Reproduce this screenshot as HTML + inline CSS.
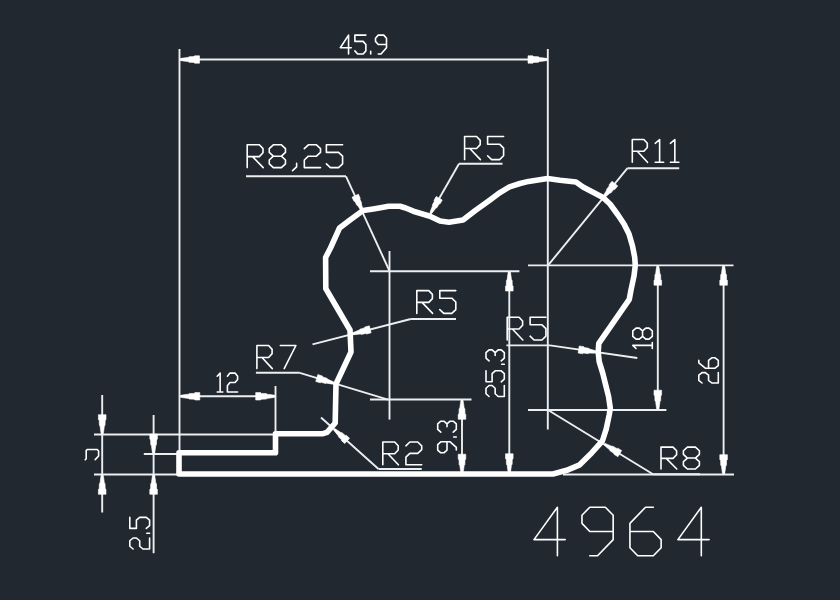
<!DOCTYPE html>
<html><head><meta charset="utf-8"><title>4964</title>
<style>html,body{margin:0;padding:0;background:#212830;width:840px;height:600px;overflow:hidden;font-family:"Liberation Sans",sans-serif;}svg{display:block}</style>
</head><body>
<svg width="840" height="600" viewBox="0 0 840 600"><rect width="840" height="600" fill="#212830"/><g stroke="#eceef0" stroke-width="1.9" fill="none" stroke-linecap="butt"><line x1="179.5" y1="49" x2="179.5" y2="452"/><line x1="547.8" y1="49" x2="547.8" y2="429.5"/><line x1="179.5" y1="59.5" x2="547.8" y2="59.5"/><line x1="246" y1="176.3" x2="346" y2="176.3"/><line x1="346" y1="176.3" x2="389.5" y2="271"/><line x1="389.5" y1="251" x2="389.5" y2="419.6"/><line x1="370" y1="271.2" x2="519.4" y2="271.2"/><line x1="370" y1="399.5" x2="471.5" y2="399.5"/><line x1="459" y1="163.8" x2="502.5" y2="163.8"/><line x1="459" y1="163.8" x2="430.3" y2="214"/><line x1="627.5" y1="168.2" x2="679.2" y2="168.2"/><line x1="627.5" y1="168.2" x2="548" y2="265.4"/><line x1="528" y1="265.4" x2="733.5" y2="265.4"/><line x1="528" y1="410" x2="666.4" y2="410"/><line x1="563" y1="474.5" x2="734" y2="474.5"/><line x1="657.8" y1="265.4" x2="657.8" y2="410"/><line x1="723.6" y1="265.4" x2="723.6" y2="474.5"/><line x1="509.3" y1="271.2" x2="509.3" y2="473.6"/><line x1="462" y1="399.5" x2="462" y2="474"/><line x1="410.8" y1="319.0" x2="456" y2="319.0"/><line x1="410.8" y1="319.0" x2="312.5" y2="344.3"/><line x1="506.4" y1="345.4" x2="550" y2="345.4"/><line x1="550" y1="345.4" x2="637.3" y2="358"/><line x1="255.9" y1="372.8" x2="299.8" y2="372.8"/><line x1="299.8" y1="372.8" x2="388" y2="399.6"/><line x1="321" y1="417.5" x2="378.5" y2="469.0"/><line x1="378.5" y1="469.0" x2="421.7" y2="469.0"/><line x1="548" y1="410" x2="653.1" y2="474.3"/><line x1="653.1" y1="474.3" x2="700" y2="474.3"/><line x1="180" y1="396.3" x2="275.5" y2="396.3"/><line x1="275.5" y1="386" x2="275.5" y2="434"/><line x1="94" y1="434.5" x2="276" y2="434.5"/><line x1="94" y1="474.5" x2="179" y2="474.5"/><line x1="102.2" y1="395" x2="102.2" y2="512.5"/><line x1="143.8" y1="454" x2="179" y2="454"/><line x1="153.6" y1="415" x2="153.6" y2="553.2"/></g><g fill="#ffffff" stroke="#ffffff" stroke-width="0.6" stroke-linejoin="miter"><polygon points="180.50,60.50 183.35,61.00 188.10,61.60 189.05,62.30 193.80,62.40 194.56,63.20 199.50,63.20 199.50,55.80 194.56,55.80 193.80,56.60 189.05,56.70 188.10,57.40 183.35,58.00 180.50,58.50"/><polygon points="547.00,58.50 544.15,58.00 539.40,57.40 538.45,56.70 533.70,56.60 532.94,55.80 528.00,55.80 528.00,63.20 532.94,63.20 533.70,62.40 538.45,62.30 539.40,61.60 544.15,61.00 547.00,60.50"/><polygon points="363.36,210.59 362.69,208.09 361.38,204.00 361.61,202.95 359.87,199.07 360.26,198.13 358.37,194.14 352.03,197.15 353.93,201.14 354.91,201.43 356.82,205.23 357.78,205.71 360.12,209.31 361.64,211.41"/><polygon points="431.62,213.47 433.30,211.49 435.91,208.09 436.91,207.68 439.10,204.04 440.10,203.83 442.29,199.99 436.21,196.51 434.01,200.34 434.33,201.31 432.30,205.04 432.46,206.11 430.84,210.08 429.98,212.53"/><polygon points="604.27,198.13 606.37,196.36 609.69,193.26 610.80,193.01 613.73,189.59 614.80,189.54 617.77,185.92 612.04,181.23 609.08,184.85 609.24,185.91 606.47,189.46 606.44,190.60 604.05,194.46 602.73,196.87"/><polygon points="656.77,266.20 656.26,269.05 655.64,273.80 654.93,274.75 654.82,279.50 654.00,280.26 654.00,285.20 661.60,285.20 661.60,280.26 660.78,279.50 660.67,274.75 659.96,273.80 659.34,269.05 658.83,266.20"/><polygon points="658.83,409.20 659.34,406.35 659.96,401.60 660.67,400.65 660.78,395.90 661.60,395.14 661.60,390.20 654.00,390.20 654.00,395.14 654.82,395.90 654.93,400.65 655.64,401.60 656.26,406.35 656.77,409.20"/><polygon points="722.57,266.20 722.06,269.05 721.44,273.80 720.73,274.75 720.62,279.50 719.80,280.26 719.80,285.20 727.40,285.20 727.40,280.26 726.58,279.50 726.47,274.75 725.76,273.80 725.14,269.05 724.63,266.20"/><polygon points="724.63,473.70 725.14,470.85 725.76,466.10 726.47,465.15 726.58,460.40 727.40,459.64 727.40,454.70 719.80,454.70 719.80,459.64 720.62,460.40 720.73,465.15 721.44,466.10 722.06,470.85 722.57,473.70"/><polygon points="508.27,272.00 507.76,274.85 507.14,279.60 506.43,280.55 506.32,285.30 505.50,286.06 505.50,291.00 513.10,291.00 513.10,286.06 512.28,285.30 512.17,280.55 511.46,279.60 510.84,274.85 510.33,272.00"/><polygon points="510.33,472.80 510.84,469.95 511.46,465.20 512.17,464.25 512.28,459.50 513.10,458.74 513.10,453.80 505.50,453.80 505.50,458.74 506.32,459.50 506.43,464.25 507.14,465.20 507.76,469.95 508.27,472.80"/><polygon points="460.97,400.30 460.46,403.15 459.84,407.90 459.13,408.85 459.02,413.60 458.20,414.36 458.20,419.30 465.80,419.30 465.80,414.36 464.98,413.60 464.87,408.85 464.16,407.90 463.54,403.15 463.03,400.30"/><polygon points="463.03,473.20 463.54,470.35 464.16,465.60 464.87,464.65 464.98,459.90 465.80,459.14 465.80,454.20 458.20,454.20 458.20,459.14 459.02,459.90 459.13,464.65 459.84,465.60 460.46,470.35 460.97,473.20"/><polygon points="353.04,334.74 355.78,334.55 360.28,334.00 361.32,334.44 365.71,333.42 366.60,334.00 371.13,332.84 369.35,325.86 364.82,327.02 364.31,327.95 359.97,329.16 359.27,330.04 355.06,331.72 352.56,332.86"/><polygon points="596.64,351.14 594.04,350.27 589.67,349.05 588.87,348.25 584.43,347.51 583.83,346.63 579.20,345.97 578.17,353.10 582.80,353.77 583.63,353.10 588.09,353.64 589.08,353.10 593.62,353.16 596.36,353.06"/><polygon points="334.29,382.37 331.85,381.11 327.72,379.23 327.06,378.32 322.78,376.90 322.32,375.95 317.85,374.57 315.74,381.46 320.21,382.83 321.13,382.30 325.46,383.53 326.52,383.14 330.99,383.90 333.71,384.23"/><polygon points="333.85,430.33 335.43,432.39 338.21,435.66 338.39,436.73 341.49,439.64 341.48,440.67 344.77,443.61 349.58,438.24 346.28,435.30 345.25,435.42 342.02,432.67 340.93,432.61 337.37,430.21 335.15,428.87"/><polygon points="603.99,445.03 606.03,446.86 609.54,449.73 609.95,450.78 613.73,453.23 613.93,454.28 617.91,456.74 621.70,450.61 617.72,448.15 616.70,448.43 612.82,446.15 611.70,446.25 607.56,444.38 605.01,443.37"/><polygon points="180.80,397.30 183.65,397.80 188.40,398.40 189.35,399.10 194.10,399.20 194.86,400.00 199.80,400.00 199.80,392.60 194.86,392.60 194.10,393.40 189.35,393.50 188.40,394.20 183.65,394.80 180.80,395.30"/><polygon points="274.70,395.30 271.85,394.80 267.10,394.20 266.15,393.50 261.40,393.40 260.64,392.60 255.70,392.60 255.70,400.00 260.64,400.00 261.40,399.20 266.15,399.10 267.10,398.40 271.85,397.80 274.70,397.30"/><polygon points="103.23,433.70 103.74,430.85 104.36,426.10 105.07,425.15 105.18,420.40 106.00,419.64 106.00,414.70 98.40,414.70 98.40,419.64 99.22,420.40 99.33,425.15 100.04,426.10 100.66,430.85 101.17,433.70"/><polygon points="101.17,475.30 100.66,478.15 100.04,482.90 99.33,483.85 99.22,488.60 98.40,489.36 98.40,494.30 106.00,494.30 106.00,489.36 105.18,488.60 105.07,483.85 104.36,482.90 103.74,478.15 103.23,475.30"/><polygon points="154.63,453.20 155.14,450.35 155.76,445.60 156.47,444.65 156.58,439.90 157.40,439.14 157.40,434.20 149.80,434.20 149.80,439.14 150.62,439.90 150.73,444.65 151.44,445.60 152.06,450.35 152.57,453.20"/><polygon points="152.57,475.30 152.06,478.15 151.44,482.90 150.73,483.85 150.62,488.60 149.80,489.36 149.80,494.30 157.40,494.30 157.40,489.36 156.58,488.60 156.47,483.85 155.76,482.90 155.14,478.15 154.63,475.30"/></g><g stroke="#ffffff" stroke-width="1.6" fill="none" stroke-linecap="round" stroke-linejoin="round"><path d="M348.55,54.00 L348.55,35.10 L340.30,47.70 L351.30,47.70 M365.88,35.10 L354.88,35.10 L354.88,41.40 L363.12,41.40 L365.88,44.55 L365.88,50.85 L363.12,54.00 L357.62,54.00 L354.88,50.85 M370.69,54.00 L370.69,51.32 M378.25,54.00 L381.00,54.00 L386.50,47.70 L386.50,38.25 L383.75,35.10 L378.25,35.10 L375.50,38.25 L375.50,41.40 L378.25,44.55 L386.50,44.55"/><path d="M247.20,167.60 L247.20,144.80 L259.35,144.80 L263.00,148.60 L263.00,152.78 L259.35,156.58 L247.20,156.58 M252.46,156.58 L263.20,167.60 M273.32,156.20 L269.27,152.40 L269.27,148.60 L273.32,144.80 L281.42,144.80 L285.47,148.60 L285.47,152.40 L281.42,156.20 L273.32,156.20 L269.27,160.00 L269.27,163.80 L273.32,167.60 L281.42,167.60 L285.47,163.80 L285.47,160.00 L281.42,156.20 M296.61,163.42 L296.61,166.84 L292.56,170.64 M304.31,148.60 L308.36,144.80 L316.45,144.80 L320.50,148.60 L320.50,152.40 L316.45,156.20 L308.36,156.20 L304.31,160.00 L304.31,167.60 L320.50,167.60 M342.58,144.80 L326.38,144.80 L326.38,152.40 L338.53,152.40 L342.58,156.20 L342.58,163.80 L338.53,167.60 L330.43,167.60 L326.38,163.80"/><path d="M464.60,159.60 L464.60,136.50 L476.60,136.50 L480.20,140.35 L480.20,144.58 L476.60,148.44 L464.60,148.44 M469.80,148.44 L480.40,159.60 M503.60,136.50 L487.60,136.50 L487.60,144.20 L499.60,144.20 L503.60,148.05 L503.60,155.75 L499.60,159.60 L491.60,159.60 L487.60,155.75"/><path d="M632.30,162.30 L632.30,139.50 L643.85,139.50 L647.31,143.30 L647.31,147.48 L643.85,151.28 L632.30,151.28 M637.30,151.28 L647.51,162.30 M655.21,143.30 L659.63,139.50 L659.63,162.30 M655.21,162.30 L663.68,162.30 M670.41,143.30 L674.84,139.50 L674.84,162.30 M670.41,162.30 L678.88,162.30"/><path d="M636.05,348.50 L632.80,345.34 L652.30,345.34 M652.30,348.50 L652.30,342.45 M642.55,336.40 L639.30,339.15 L636.05,339.15 L632.80,336.40 L632.80,330.90 L636.05,328.15 L639.30,328.15 L642.55,330.90 L642.55,336.40 L645.80,339.15 L649.05,339.15 L652.30,336.40 L652.30,330.90 L649.05,328.15 L645.80,328.15 L642.55,330.90"/><path d="M702.05,383.00 L698.80,380.40 L698.80,375.20 L702.05,372.60 L705.30,372.60 L708.55,375.20 L708.55,380.40 L711.80,383.00 L718.30,383.00 L718.30,372.60 M698.80,360.38 L698.80,362.98 L705.30,368.18 L715.05,368.18 L718.30,365.58 L718.30,360.38 L715.05,357.78 L711.80,357.78 L708.55,360.38 L708.55,368.18"/><path d="M489.05,396.50 L486.00,393.75 L486.00,388.25 L489.05,385.50 L492.10,385.50 L495.15,388.25 L495.15,393.75 L498.20,396.50 L504.30,396.50 L504.30,385.50 M486.00,370.79 L486.00,381.79 L492.10,381.79 L492.10,373.54 L495.15,370.79 L501.25,370.79 L504.30,373.54 L504.30,379.04 L501.25,381.79 M504.30,364.19 L501.71,364.19 M489.05,360.89 L486.00,358.14 L486.00,352.64 L489.05,349.89 L492.10,349.89 L495.15,352.64 L498.20,349.89 L501.25,349.89 L504.30,352.64 L504.30,358.14 L501.25,360.89 M495.15,355.39 L495.15,352.64"/><path d="M456.30,450.05 L456.30,447.30 L450.10,441.80 L440.80,441.80 L437.70,444.55 L437.70,450.05 L440.80,452.80 L443.90,452.80 L447.00,450.05 L447.00,441.80 M456.30,436.99 L453.67,436.99 M440.80,432.18 L437.70,429.43 L437.70,423.93 L440.80,421.18 L443.90,421.18 L447.00,423.93 L450.10,421.18 L453.20,421.18 L456.30,423.93 L456.30,429.43 L453.20,432.18 M447.00,426.68 L447.00,423.93"/><path d="M416.80,313.40 L416.80,290.60 L428.80,290.60 L432.40,294.40 L432.40,298.58 L428.80,302.38 L416.80,302.38 M422.00,302.38 L432.60,313.40 M455.80,290.60 L439.80,290.60 L439.80,298.20 L451.80,298.20 L455.80,302.00 L455.80,309.60 L451.80,313.40 L443.80,313.40 L439.80,309.60"/><path d="M507.20,340.00 L507.20,317.20 L519.05,317.20 L522.61,321.00 L522.61,325.18 L519.05,328.98 L507.20,328.98 M512.34,328.98 L522.80,340.00 M545.91,317.20 L530.11,317.20 L530.11,324.80 L541.96,324.80 L545.91,328.60 L545.91,336.20 L541.96,340.00 L534.06,340.00 L530.11,336.20"/><path d="M256.90,368.60 L256.90,345.50 L268.60,345.50 L272.11,349.35 L272.11,353.59 L268.60,357.44 L256.90,357.44 M261.97,357.44 L272.30,368.60 M280.30,345.50 L295.90,345.50 L284.20,368.60"/><path d="M382.80,464.80 L382.80,442.00 L394.65,442.00 L398.21,445.80 L398.21,449.98 L394.65,453.78 L382.80,453.78 M387.94,453.78 L398.40,464.80 M405.91,445.80 L409.86,442.00 L417.76,442.00 L421.71,445.80 L421.71,449.60 L417.76,453.40 L409.86,453.40 L405.91,457.20 L405.91,464.80 L421.71,464.80"/><path d="M661.00,469.00 L661.00,447.10 L673.00,447.10 L676.60,450.75 L676.60,454.76 L673.00,458.42 L661.00,458.42 M666.20,458.42 L676.80,469.00 M687.40,458.05 L683.40,454.40 L683.40,450.75 L687.40,447.10 L695.40,447.10 L699.40,450.75 L699.40,454.40 L695.40,458.05 L687.40,458.05 L683.40,461.70 L683.40,465.35 L687.40,469.00 L695.40,469.00 L699.40,465.35 L699.40,461.70 L695.40,458.05"/><path d="M217.20,376.25 L220.13,373.10 L220.13,392.00 M217.20,392.00 L222.81,392.00 M227.40,376.25 L229.95,373.10 L235.05,373.10 L237.60,376.25 L237.60,379.40 L235.05,382.55 L229.95,382.55 L227.40,385.70 L227.40,392.00 L237.60,392.00"/><path d="M85.2,459.8 L86.2,458.8 L86.2,450.6 L87.2,449.5 L97.2,449.5 L98.6,451 L98.6,456 L95.2,459.6"/><path d="M133.10,549.00 L129.80,546.25 L129.80,540.75 L133.10,538.00 L136.40,538.00 L139.70,540.75 L139.70,546.25 L143.00,549.00 L149.60,549.00 L149.60,538.00 M149.60,533.19 L146.79,533.19 M129.80,517.38 L129.80,528.38 L136.40,528.38 L136.40,520.12 L139.70,517.38 L146.30,517.38 L149.60,520.12 L149.60,525.62 L146.30,528.38"/><path d="M557.40,555.80 L557.40,507.20 L534.00,539.60 L565.20,539.60 M589.77,555.80 L597.57,555.80 L613.17,539.60 L613.17,515.30 L605.37,507.20 L589.77,507.20 L581.97,515.30 L581.97,523.40 L589.77,531.50 L613.17,531.50 M653.34,507.20 L645.54,507.20 L629.94,523.40 L629.94,547.70 L637.74,555.80 L653.34,555.80 L661.14,547.70 L661.14,539.60 L653.34,531.50 L629.94,531.50 M701.31,555.80 L701.31,507.20 L677.91,539.60 L709.11,539.60"/></g><g stroke="#ffffff" stroke-width="5.6" fill="none" stroke-linejoin="round" stroke-linecap="round"><polyline points="179,474.0 553,474.0 566.7,470.3 579.7,464.8 591.6,452.9 602.4,441 606.2,429.1 609.2,415 610.3,408.3 608.6,396.7 605.7,385 602.8,373.3 599.2,361.7 598.2,352 598.8,343.3 629.3,299.3 631,290 634,276 635.3,265.3 634.7,257.3 632.5,246 629,234 624,224 618,215 610,204 603,197.5 583,187 576,182 560,180.3 547.5,178.6 528.6,181.4 520,183.5 509.5,186.9 500,192.6 490,200 475,210.8 463,220 449,222.2 440,221 430,216.2 426.7,215.2 413.3,211.2 405.7,208 400,206.3 388.6,206.2 381.9,207.5 373.3,209 363,210.6 350,220 339.5,228 330.5,248 325.6,257.5 325.8,288.7 338.3,310 350,330 351,352 336,384 335.2,423 327,432.3 323,433.7 275.5,433.8 275.5,452.8 179,452.8 179,474.0"/></g></svg>
</body></html>
